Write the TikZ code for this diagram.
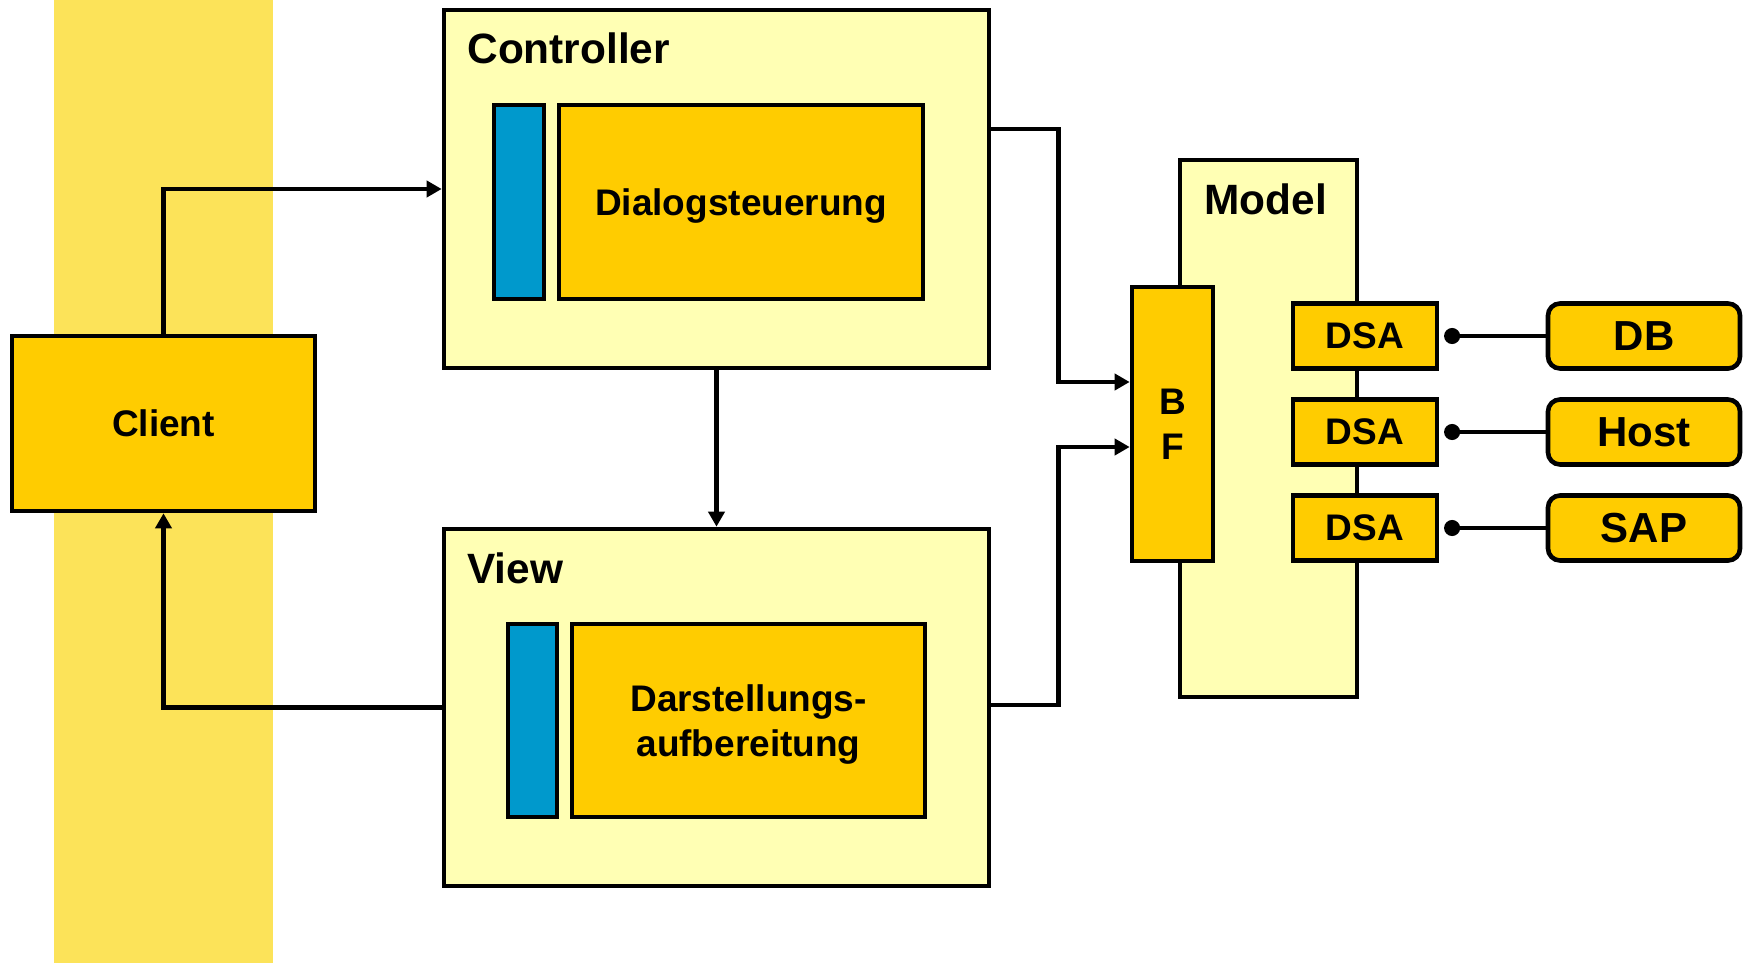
\documentclass[tikz,border=0pt]{standalone}
\usepackage{fontspec}
\setmainfont{Liberation Sans}
\usetikzlibrary{arrows.meta}
\definecolor{bandyellow}{RGB}{252,227,89}
\definecolor{gold}{RGB}{255,204,0}
\definecolor{paleyellow}{RGB}{255,255,180}
\definecolor{steelblue}{RGB}{0,153,204}

\begin{document}
\begin{tikzpicture}[x=0.5pt, y=-0.5pt,
  box/.style={draw=black, line width=2.3pt, inner sep=0pt, rectangle},
  pane/.style={box, fill=paleyellow},
  part/.style={box, fill=gold, font=\bfseries\fontsize{18.5}{22.5}\selectfont},
  bar/.style={box, fill=steelblue},
  ext/.style={part, rounded corners=6pt, font=\bfseries\fontsize{21}{25}\selectfont},
  title/.style={font=\bfseries\fontsize{21.2}{25}\selectfont, inner sep=0pt, anchor=base west},
  link/.style={line width=2.2pt, -{Triangle[length=7.5pt,width=8pt]}},
  wire/.style={line width=2.2pt, {Circle[length=8pt]}-, shorten <=2.4pt},
]
% canvas and client-side band
\fill[white] (0,0) rectangle (1745,963);
\fill[bandyellow] (54,0) rectangle (273,963);

% client
\node[part, minimum width=151.5pt, minimum height=87.5pt] (client) at (163.5,423.5) {Client};

% controller
\node[pane, minimum width=272.5pt, minimum height=179pt] (ctrl) at (716.5,189) {};
\node[title] (ctrltitle) at (467,64) {Controller};
\node[bar, minimum width=25pt, minimum height=97pt] (ctrlbar) at (519,202) {};
\node[part, text depth=0pt, minimum width=182pt, minimum height=97pt] (dialog) at (741,202) {Dialogsteuerung};

% view
\node[pane, minimum width=272.5pt, minimum height=178.5pt] (view) at (716.5,707.5) {};
\node[title] (viewtitle) at (467,583) {View};
\node[bar, minimum width=24.5pt, minimum height=96.5pt] (viewbar) at (532.5,720.5) {};
\node[part, align=center, minimum width=176.5pt, minimum height=96.5pt] (darst) at (748.5,720.5) {Darstellungs-\\aufbereitun\smash{g}};

% model with business facade and data source adapters
\node[pane, minimum width=88.5pt, minimum height=268.5pt] (model) at (1268.5,428.5) {};
\node[title] (modeltitle) at (1204,214) {Model};
\node[part, align=center, minimum width=40.5pt, minimum height=137pt] (bf) at (1172.5,424) {B\\F};
\foreach \i/\y/\t in {1/336/DB, 2/432/Host, 3/528/SAP} {
  \node[part, minimum width=72pt, minimum height=32.5pt] (dsa\i) at (1365,\y) {DSA};
  \node[ext, minimum width=96pt, minimum height=32.5pt] (store\i) at (1644,\y) {\t};
  \draw[wire] (dsa\i.east) -- (store\i.west);
}

% request / response flow
\draw[link] (client.north) |- (ctrl.west);
\draw[link] (ctrl.south) -- (view.north);
\draw[link] (view.west) -| (client.south);
\draw[link] ([yshift=30pt]ctrl.east) -- ++(33.5pt,0) |- ([yshift=21pt]bf.west);
\draw[link] ([yshift=1.25pt]view.east) -- ++(33.5pt,0) |- ([yshift=-11.5pt]bf.west);
\end{tikzpicture}
\end{document}
